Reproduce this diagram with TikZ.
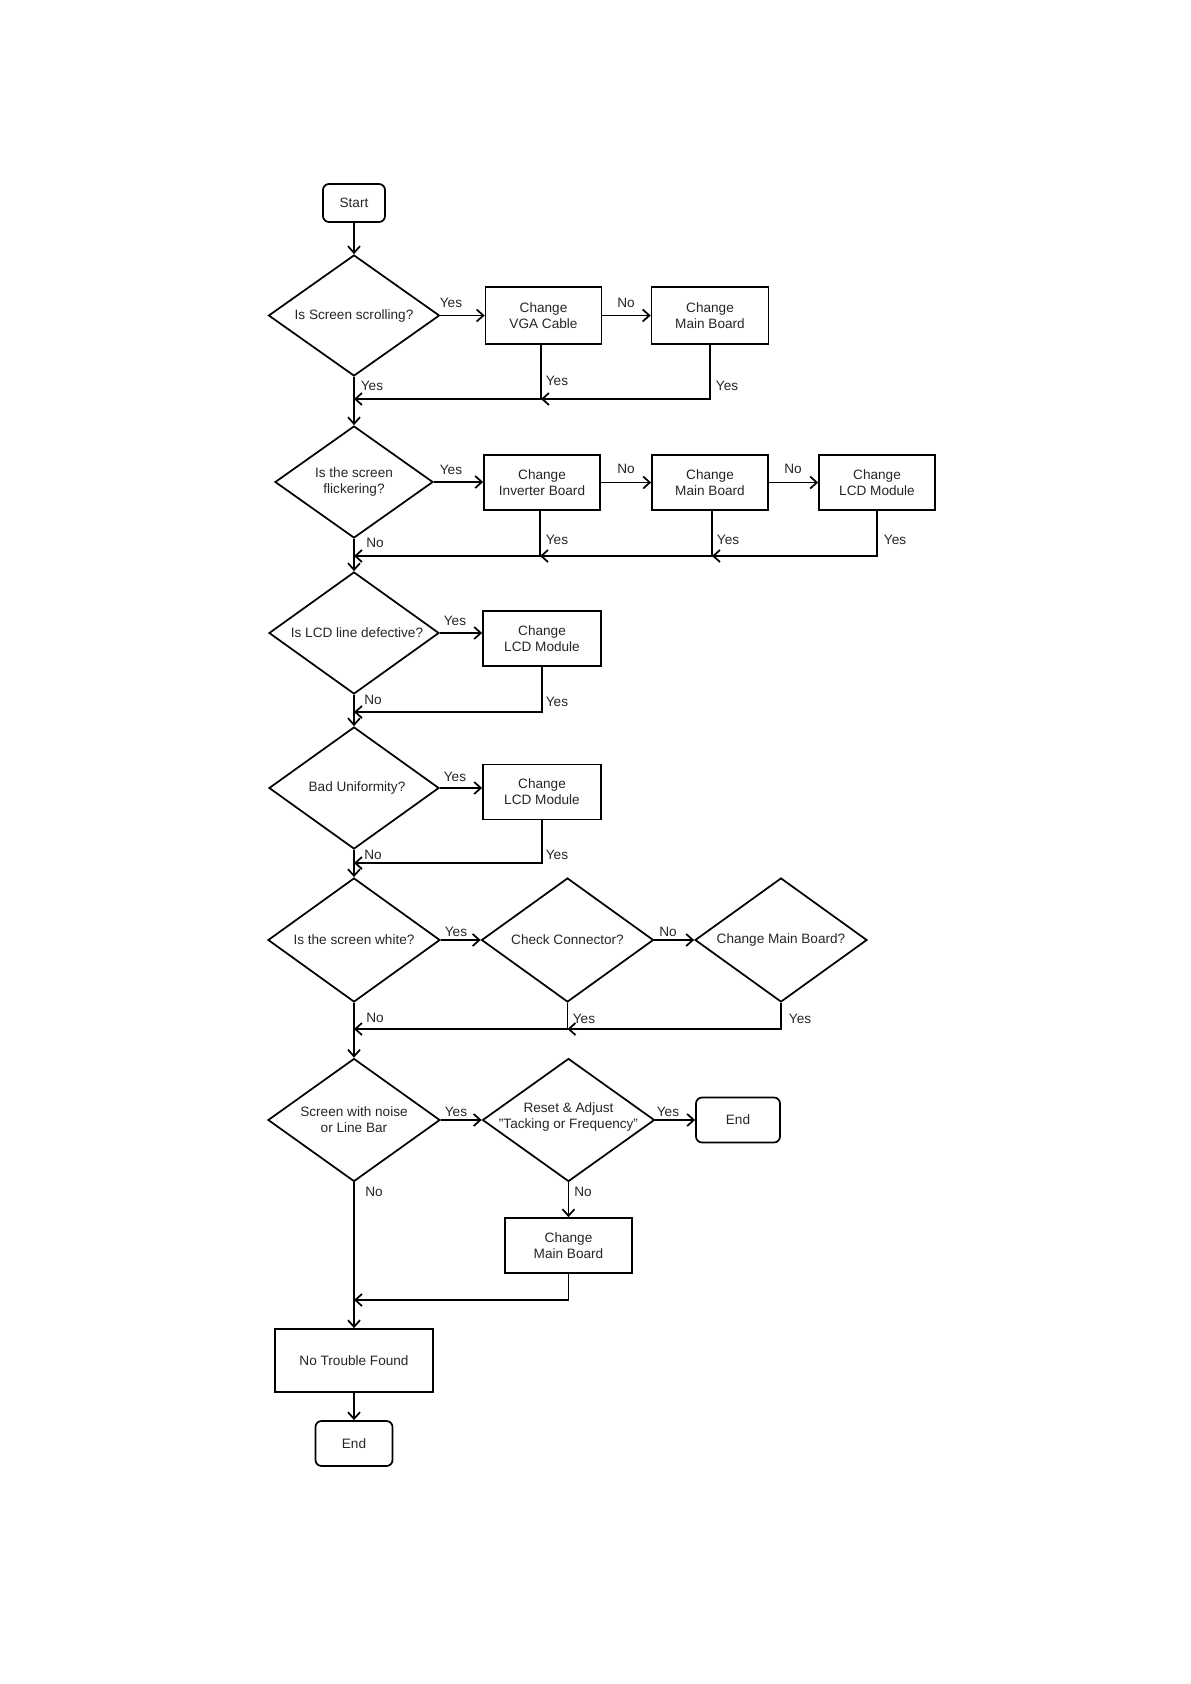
\documentclass[tikz,border=0pt]{standalone}
\usepackage{fontspec}
\setmainfont{Liberation Sans}
\usetikzlibrary{shapes.geometric,arrows.meta}
\begin{document}
\begin{tikzpicture}[x=0.75pt,y=-0.75pt,
  every node/.style={font=\fontsize{10.2}{12}\selectfont,text=black!85},
  sz/.style 2 args={minimum width=#1*0.75pt,minimum height=#2*0.75pt},
  box/.style={draw,line width=1.3pt,rectangle,inner sep=0pt,align=center},
  term/.style={box,rounded corners=4.5pt},
  dia/.style={draw,line width=1.3pt,diamond,inner sep=0pt},
  txt/.style={align=center,inner sep=0pt},
  lbl/.style={inner sep=0pt},
  arr/.style={line width=1.3pt,-{Straight Barb[length=5pt,width=9pt,line width=1.3pt]}},
  barr/.style={line width=2.2pt,-{Straight Barb[length=5pt,width=9pt,line width=1.3pt]}}]
\useasboundingbox (0,0) rectangle (1190,1684);
\fill[white] (0,0) rectangle (1190,1684);

% row 1
\node[term,sz={62}{38}] (start) at (354,203) {Start};
\node[dia,sz={171}{121}] (d1) at (354,315.5) {};
\node[txt] (d1t) at (d1) {Is Screen scrolling?};
\node[box,sz={116}{57}] (vga) at (543.5,315.5) {Change\\VGA Cable};
\node[box,sz={117}{57}] (mb1) at (710,315.5) {Change\\Main Board};
\coordinate (j1a) at (354,399);
\coordinate (j1b) at (541,399);
\draw[arr] (start) -- (d1);
\draw[arr] (d1) -- (vga);
\draw[arr] (vga) -- (mb1);
\draw[arr] (mb1.south) |- (j1b);
\draw[arr] (vga.south -| j1b) |- (j1a);
\node[lbl] (l1a) at (451,303) {Yes};
\node[lbl] (l1b) at (626,303) {No};
\node[lbl] (l1c) at (557,381) {Yes};
\node[lbl] (l1d) at (727,386) {Yes};
\node[lbl] (l1e) at (372,386) {Yes};

% row 2
\node[dia,sz={158}{112}] (d2) at (354,482) {};
\node[txt] (d2t) at (d2) {Is the screen\\flickering?};
\node[box,sz={116}{55}] (inv) at (542,482.5) {Change\\Inverter Board};
\node[box,sz={116}{55}] (mb2) at (710,482.5) {Change\\Main Board};
\node[box,sz={116}{55}] (lcd2) at (877,482.5) {Change\\LCD Module};
\coordinate (j2a) at (354,556);
\coordinate (j2b) at (540,556);
\coordinate (j2c) at (712,556);
\draw[arr] (d1.south) -- (d2.north);
\draw[arr] (d2.east) -- (d2.east -| inv.west);
\draw[arr] (inv) -- (mb2);
\draw[arr] (mb2) -- (lcd2);
\draw[arr] (lcd2.south) |- (j2c);
\draw[arr] (mb2.south -| j2c) |- (j2b);
\draw[arr] (inv.south -| j2b) |- (j2a);
\node[lbl] (l2a) at (451,470) {Yes};
\node[lbl] (l2b) at (626,469) {No};
\node[lbl] (l2c) at (793,469) {No};
\node[lbl] (l2d) at (557,540) {Yes};
\node[lbl] (l2e) at (728,540) {Yes};
\node[lbl] (l2f) at (895,540) {Yes};
\node[lbl] (l2g) at (375,543) {No};

% row 3
\node[dia,sz={170}{122}] (d3) at (354,633) {};
\node[txt] (d3t) at (357,633) {Is LCD line defective?};
\node[box,sz={118}{55}] (lcd3) at (542,638.5) {Change\\LCD Module};
\coordinate (j3) at (354,712);
\draw[arr] (d2.south) -- (d3.north);
\draw[arr] (d3.east) -- (d3.east -| lcd3.west);
\draw[arr] (lcd3.south) |- (j3);
\node[lbl] (l3a) at (455,621) {Yes};
\node[lbl] (l3b) at (373,700) {No};
\node[lbl] (l3c) at (557,702) {Yes};

% row 4
\node[dia,sz={170}{122}] (d4) at (354,788) {};
\node[txt] (d4t) at (357,788) {Bad Uniformity?};
\node[box,sz={118}{55}] (lcd4) at (542,792) {Change\\LCD Module};
\coordinate (j4) at (354,863);
\draw[arr] (d3.south) -- (d4.north);
\draw[arr] (d4.east) -- (d4.east -| lcd4.west);
\draw[arr] (lcd4.south) |- (j4);
\node[lbl] (l4a) at (455,777) {Yes};
\node[lbl] (l4b) at (373,855) {No};
\node[lbl] (l4c) at (557,855) {Yes};

% row 5
\node[dia,sz={172}{124}] (d5) at (354,940) {};
\node[txt] (d5t) at (d5) {Is the screen white?};
\node[dia,sz={172}{124}] (cc) at (567.5,940) {};
\node[txt] (cct) at (cc) {Check Connector?};
\node[dia,sz={172}{124}] (cmb) at (781,940) {};
\node[txt] (cmbt) at (cmb) {Change Main Board?};
\coordinate (j5a) at (354,1029);
\coordinate (j5b) at (567.5,1029);
\draw[arr] (d4.south) -- (d5.north);
\draw[barr] (d5) -- (cc);
\draw[barr] (cc) -- (cmb);
\draw[arr] (cmb.south) |- (j5b);
\draw[arr] (cc.south) |- (j5a);
\node[lbl] (l5a) at (456,932) {Yes};
\node[lbl] (l5b) at (668,932) {No};
\node[lbl] (l5c) at (375,1018) {No};
\node[lbl] (l5d) at (584,1019) {Yes};
\node[lbl] (l5e) at (800,1019) {Yes};

% row 6
\node[dia,sz={172}{123}] (d6) at (354,1120) {};
\node[txt] (d6t) at (d6) {Screen with noise\\or Line Bar};
\node[dia,sz={172}{123}] (rst) at (568.5,1120) {};
\node[txt] (rstt) at (568.5,1117) {Reset \& Adjust\\"Tacking or Frequency"};
\node[term,sz={84}{45}] (end1) at (738,1120) {End};
\node[box,sz={127}{55}] (cmb6) at (568.5,1245.5) {Change\\Main Board};
\coordinate (j6) at (354,1300);
\draw[arr] (d5.south) -- (d6.north);
\draw[barr] (d6) -- (rst);
\draw[barr] (rst) -- (end1);
\draw[arr] (rst.south) -- (cmb6.north);
\draw[arr] (cmb6.south) |- (j6);
\node[lbl] (l6a) at (456,1112) {Yes};
\node[lbl] (l6b) at (668,1112) {Yes};
\node[lbl] (l6c) at (374,1192) {No};
\node[lbl] (l6d) at (583,1192) {No};

% bottom
\node[box,sz={158}{63}] (ntf) at (354,1360.5) {No Trouble Found};
\node[term,sz={77}{45}] (end2) at (354,1443.5) {End};
\draw[arr] (d6.south) -- (ntf.north);
\draw[arr] (ntf) -- (end2);
\end{tikzpicture}
\end{document}
